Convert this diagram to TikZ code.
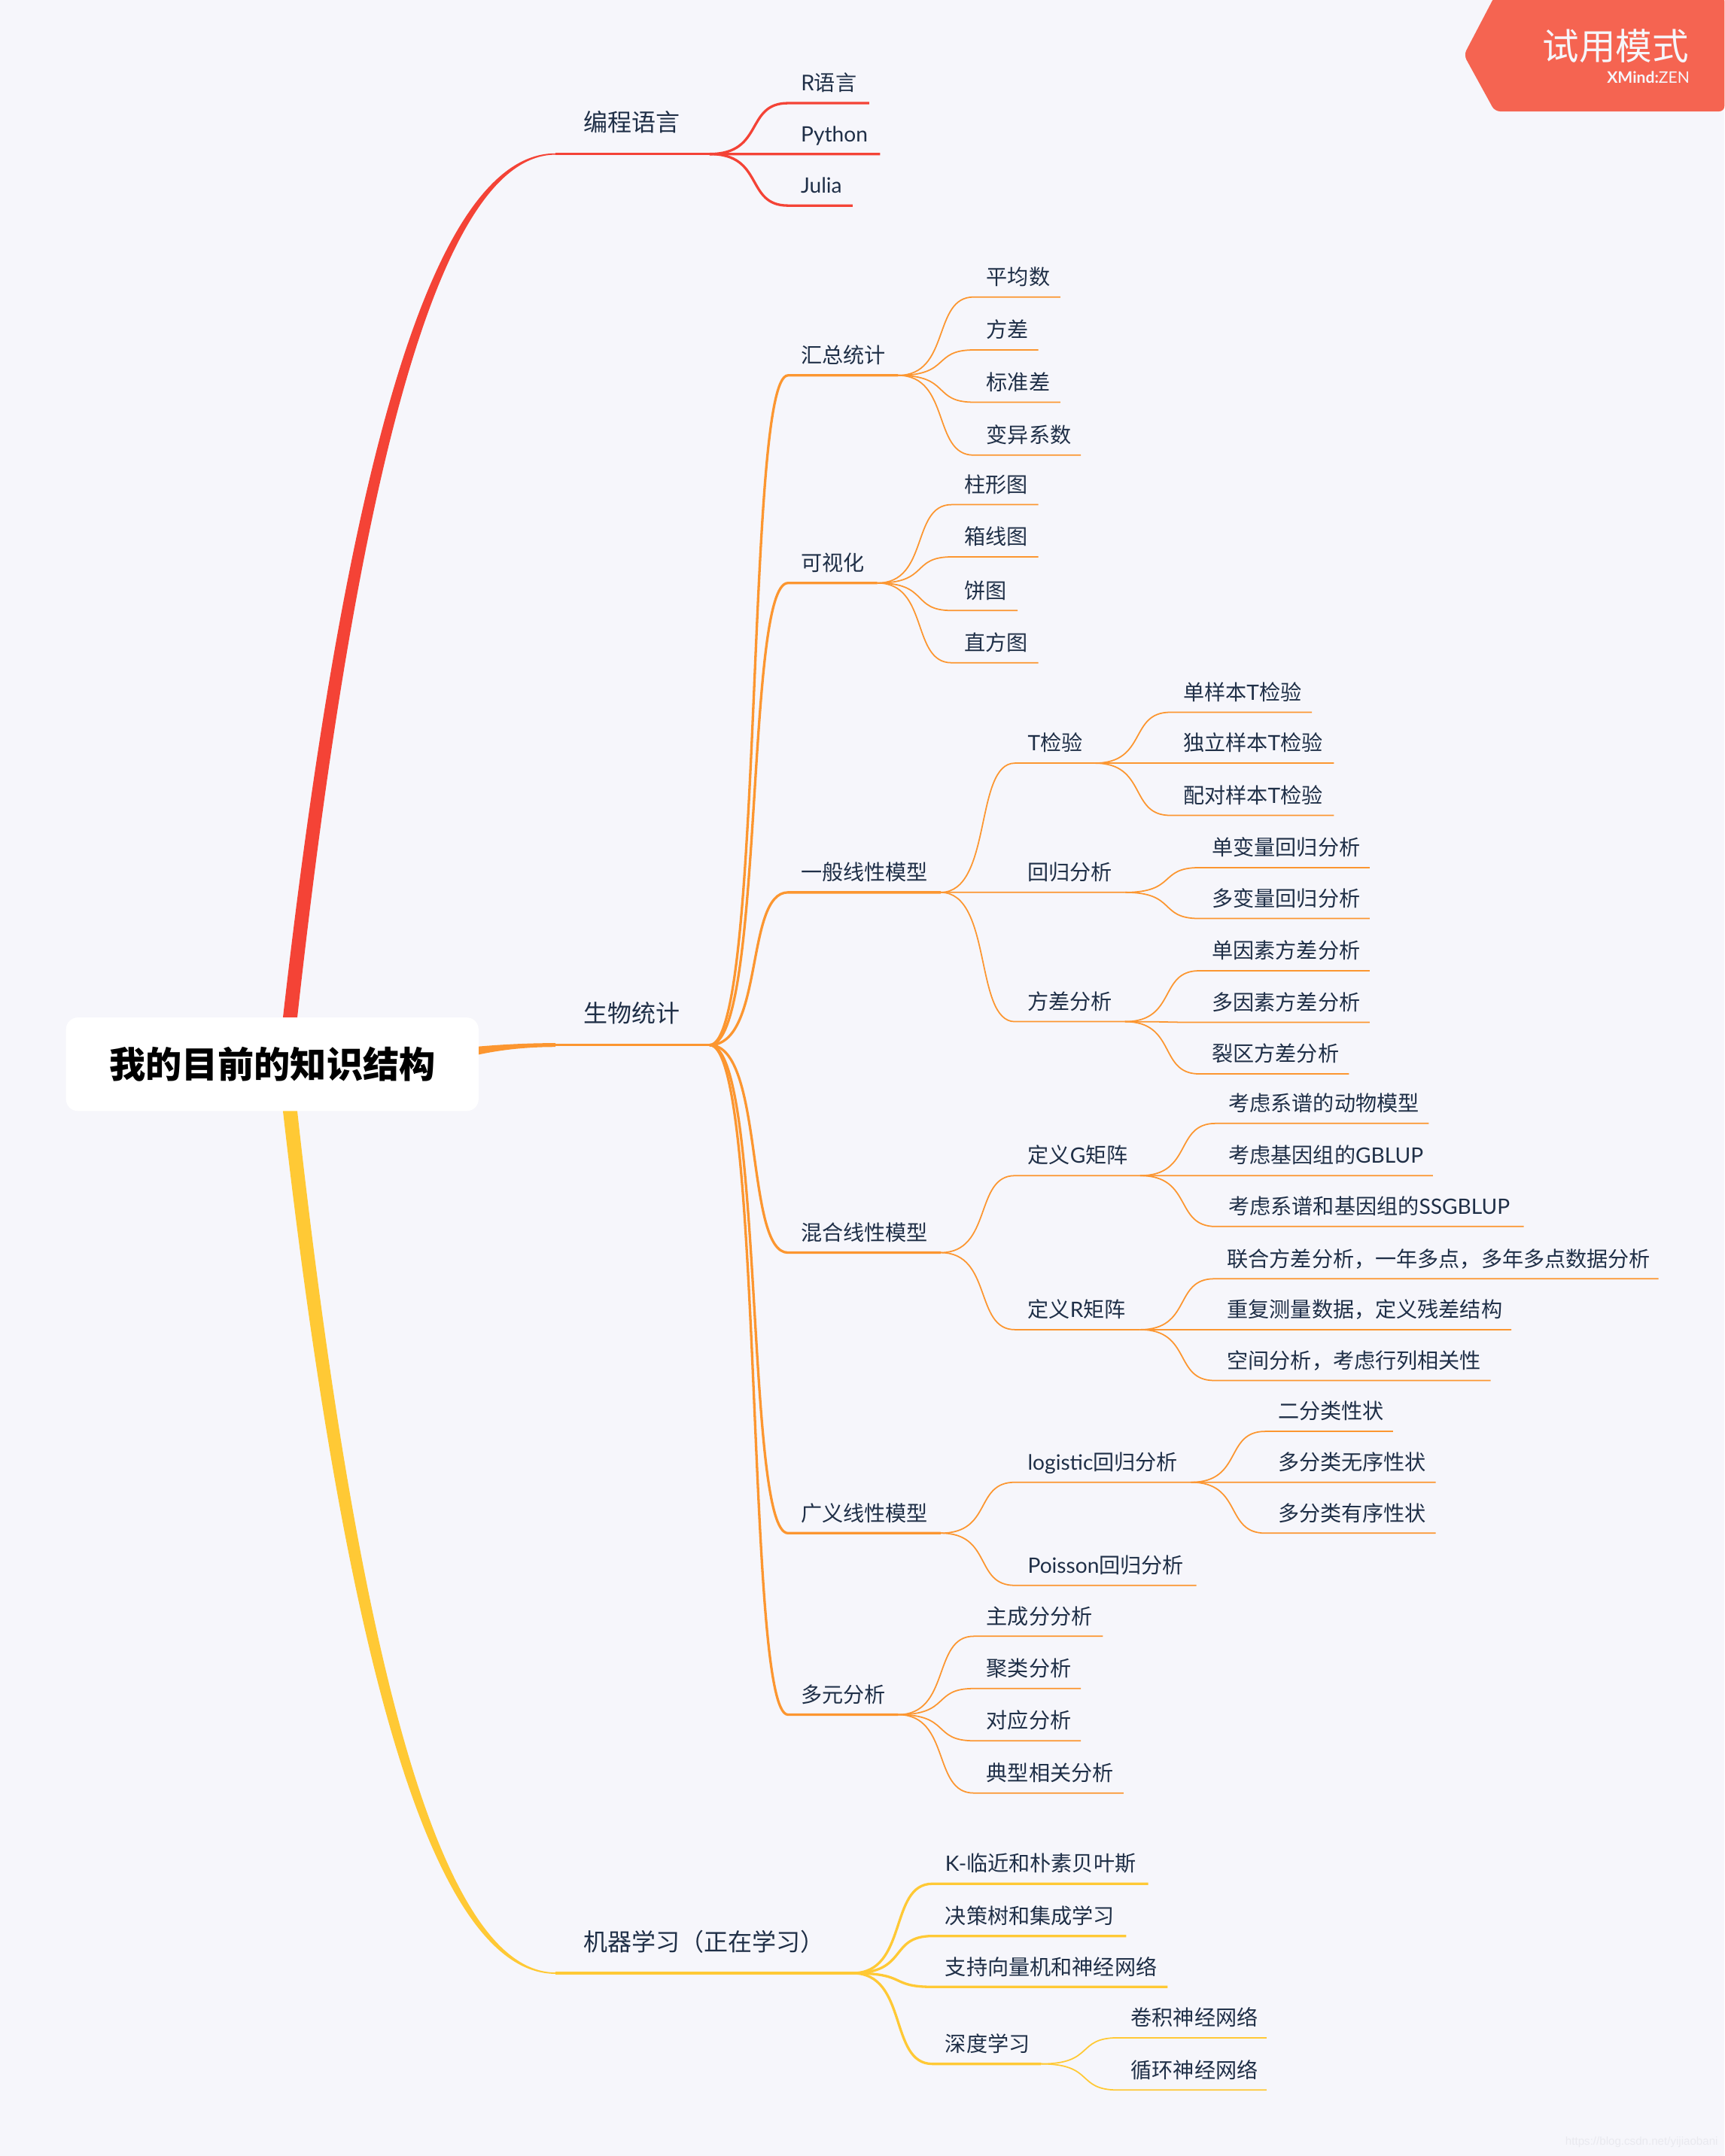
\documentclass[tikz,border=0pt]{standalone}
\usepackage{fontspec}
\usetikzlibrary{calc,backgrounds}
\setmainfont{Noto Sans CJK SC}
\newfontfamily\lat{Lato}
\newfontfamily\wm{Liberation Sans}
\newcommand{\ltn}[1]{{\lat #1}}
\definecolor{bgc}{HTML}{F6F6FB}
\definecolor{rd}{HTML}{F44336}
\definecolor{og}{HTML}{FC9630}
\definecolor{yl}{HTML}{FFC935}
\definecolor{bdg}{HTML}{F56451}
\definecolor{txt}{HTML}{1F2F47}
\definecolor{wmc}{HTML}{E9E9EF}
\tikzset{
  lblA/.style={anchor=base west,inner sep=0pt,text=txt,font=\fontsize{9.1}{11}\selectfont},
  lblB/.style={anchor=base west,inner sep=0pt,text=txt,font=\fontsize{8}{10}\selectfont},
  thickc/.style={line width=0.94pt},
  thinc/.style={line width=0.5pt},
  rootbox/.style={fill=white,draw=none,rounded corners=4.5pt,minimum width=300*0.01827cm,minimum height=68*0.01827cm,inner sep=0pt,font=\fontsize{13.7}{16}\selectfont\bfseries,text=black}
}
% #1 name, #2 text x, #3 right end, #4 line y, #5 text
\newcommand{\topicA}[5]{%
  \coordinate (#1-l) at ({#2-20},#4);
  \coordinate (#1-r) at (#3,#4);
  \node[lblA] (#1) at (#2,{#4-16.3}) {#5};}
\newcommand{\topic}[5]{%
  \coordinate (#1-l) at ({#2-9},#4);
  \coordinate (#1-r) at (#3,#4);
  \node[lblB] (#1) at (#2,{#4-8.9}) {#5};}
% #1 style, #2 parent, #3 child
\newcommand{\conn}[3]{%
  \draw[#1] (#2-r) .. controls ($(#2-r)!0.7!(#3-l|-#2-r)$) and ($(#2-r|-#3-l)!0.45!(#3-l)$) .. (#3-l) -- (#3-r);}
\begin{document}
\begin{tikzpicture}[x=0.01827cm,y=-0.01827cm]
\useasboundingbox (0,0) rectangle (1254,1568);
\node[rootbox] (root) at (198,774) {我的目前的知识结构};
% level one
\topicA{prog}{424}{516}{112}{编程语言}
\topicA{bio}{424}{516}{760}{生物统计}
\topicA{ml}{424}{620}{1435}{机器学习（正在学习）}
% programming
\topic{rl}{582}{632}{75}{R语言}
\topic{py}{582}{640}{112}{\ltn{Python}}
\topic{jl}{582}{620}{149.5}{\ltn{Julia}}
% biostat level two
\topic{sum}{582}{653}{273}{汇总统计}
\topic{vis}{582}{638}{424}{可视化}
\topic{glm}{582}{684}{649}{一般线性模型}
\topic{mix}{582}{684}{911}{混合线性模型}
\topic{gen}{582}{684}{1115}{广义线性模型}
\topic{mul}{582}{653}{1247}{多元分析}
% summary
\topic{s1}{717}{771}{216}{平均数}
\topic{s2}{717}{755}{254.5}{方差}
\topic{s3}{717}{771}{292.5}{标准差}
\topic{s4}{717}{786}{331}{变异系数}
% visual
\topic{v1}{701}{755}{367}{柱形图}
\topic{v2}{701}{755}{405}{箱线图}
\topic{v3}{701}{740}{444}{饼图}
\topic{v4}{701}{755}{482}{直方图}
% general linear
\topic{tt}{747}{796}{555}{\ltn{T}检验}
\topic{reg}{747}{818}{649}{回归分析}
\topic{ano}{747}{818}{743}{方差分析}
\topic{t1}{860}{954}{518}{单样本\ltn{T}检验}
\topic{t2}{860}{970}{555}{独立样本\ltn{T}检验}
\topic{t3}{860}{970}{593}{配对样本\ltn{T}检验}
\topic{r1}{881}{996}{631}{单变量回归分析}
\topic{r2}{881}{996}{668}{多变量回归分析}
\topic{a1}{881}{996}{706}{单因素方差分析}
\topic{a2}{881}{996}{743.5}{多因素方差分析}
\topic{a3}{881}{981}{781}{裂区方差分析}
% mixed
\topic{gm}{747}{829}{855}{定义\ltn{G}矩阵}
\topic{rm}{747}{829}{967}{定义\ltn{R}矩阵}
\topic{g1}{893}{1039}{817}{考虑系谱的动物模型}
\topic{g2}{893}{1042}{855}{考虑基因组的\ltn{GBLUP}}
\topic{g3}{893}{1108}{892}{考虑系谱和基因组的\ltn{SSGBLUP}}
\topic{m1}{892}{1206}{930}{联合方差分析，一年多点，多年多点数据分析}
\topic{m2}{892}{1099}{967}{重复测量数据，定义残差结构}
\topic{m3}{892}{1084}{1004}{空间分析，考虑行列相关性}
% generalized
\topic{lg}{747}{866}{1078}{\ltn{logistic}回归分析}
\topic{po}{747}{870}{1153}{\ltn{Poisson}回归分析}
\topic{l1}{929}{1013}{1041}{二分类性状}
\topic{l2}{929}{1044}{1078}{多分类无序性状}
\topic{l3}{929}{1044}{1115}{多分类有序性状}
% multivariate
\topic{u1}{717}{802}{1190}{主成分分析}
\topic{u2}{717}{786}{1228}{聚类分析}
\topic{u3}{717}{786}{1266}{对应分析}
\topic{u4}{717}{817}{1304}{典型相关分析}
% machine learning
\topic{k1}{687}{835}{1370}{\ltn{K-}临近和朴素贝叶斯}
\topic{k2}{687}{819}{1408}{决策树和集成学习}
\topic{k3}{687}{849}{1445}{支持向量机和神经网络}
\topic{dl}{687}{757}{1501}{深度学习}
\topic{d1}{822}{921}{1482}{卷积神经网络}
\topic{d2}{822}{921}{1520}{循环神经网络}
\begin{pgfonlayer}{background}
\fill[bgc] (0,0) rectangle (1254,1568);
% tapered trunks
\fill[rd] ($(root)+(4,0)$) .. controls (246,368) and (309,111.4) .. ($(prog-l)+(0,-0.5)$) -- ($(prog-l)+(0,0.5)$) .. controls (315,112.6) and (255,372) .. ($(root)+(14.5,0)$) -- cycle;
\fill[yl] ($(root)+(4,0)$) .. controls (246,1180) and (309,1435.6) .. ($(ml-l)+(0,0.5)$) -- ($(ml-l)+(0,-0.5)$) .. controls (315,1434.4) and (255,1176) .. ($(root)+(14.5,0)$) -- cycle;
\fill[og] ($(root.east)+(-5,-12.5)$) .. controls (365,759.5) and (385,758.6) .. ($(bio-l)+(0,-1.4)$) -- ($(bio-l)+(0,1.4)$) .. controls (385,761.4) and (365,763) .. ($(root.east)+(-5,-6)$) -- cycle;
\end{pgfonlayer}
% level one lines
\draw[rd,thickc] (prog-l) -- (prog-r);
\draw[og,thickc] (bio-l) -- (bio-r);
\draw[yl,thickc] (ml-l) -- (ml-r);
% programming
\conn{rd,thickc}{prog}{rl}
\conn{rd,thickc}{prog}{py}
\conn{rd,thickc}{prog}{jl}
% biostat
\foreach \c in {sum,vis,glm,mix,gen,mul} {\conn{og,thickc}{bio}{\c}}
\foreach \c in {s1,s2,s3,s4} {\conn{og,thinc}{sum}{\c}}
\foreach \c in {v1,v2,v3,v4} {\conn{og,thinc}{vis}{\c}}
\foreach \c in {tt,reg,ano} {\conn{og,thinc}{glm}{\c}}
\foreach \c in {t1,t2,t3} {\conn{og,thinc}{tt}{\c}}
\foreach \c in {r1,r2} {\conn{og,thinc}{reg}{\c}}
\foreach \c in {a1,a2,a3} {\conn{og,thinc}{ano}{\c}}
\foreach \c in {gm,rm} {\conn{og,thinc}{mix}{\c}}
\foreach \c in {g1,g2,g3} {\conn{og,thinc}{gm}{\c}}
\foreach \c in {m1,m2,m3} {\conn{og,thinc}{rm}{\c}}
\foreach \c in {lg,po} {\conn{og,thinc}{gen}{\c}}
\foreach \c in {l1,l2,l3} {\conn{og,thinc}{lg}{\c}}
\foreach \c in {u1,u2,u3,u4} {\conn{og,thinc}{mul}{\c}}
% machine learning
\foreach \c in {k1,k2,k3,dl} {\conn{yl,thickc}{ml}{\c}}
\foreach \c in {d1,d2} {\conn{yl,thinc}{dl}{\c}}
% trial badge
\fill[bdg,rounded corners=2pt] (1087,-3) -- (1064.5,40) -- (1087,81) -- (1254,81) -- (1254,-3) -- cycle;
\node[anchor=base east,inner sep=0pt,text=bgc,font=\fontsize{13.8}{16}\selectfont] (badge) at (1228.5,43.5) {试用模式};
\node[anchor=base east,inner sep=0pt,text=bgc,font=\fontsize{6}{7}\selectfont] (brand) at (1229,60.5) {\lat\textbf{XMind}\textbf{:}ZEN};
\node[anchor=east,inner sep=0pt,text=wmc,font=\fontsize{4.3}{5}\selectfont\wm] (mark) at (1249.6,1558) {https://blog.csdn.net/yijiaobani};
\end{tikzpicture}
\end{document}
